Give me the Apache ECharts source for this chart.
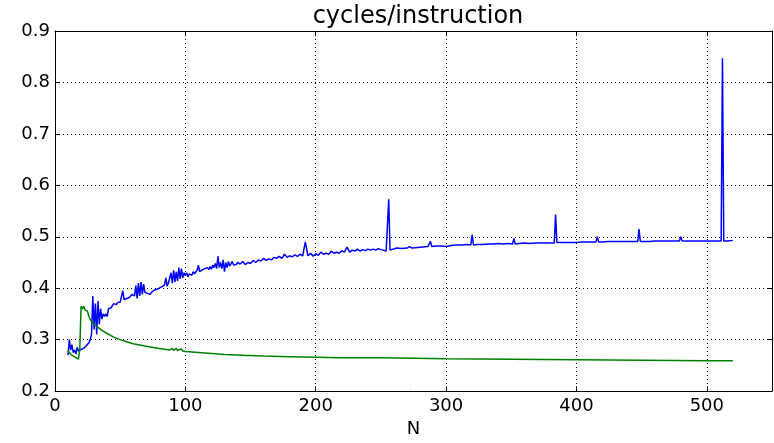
<!DOCTYPE html>
<html>
<head>
<meta charset="utf-8">
<script src="https://cdn.jsdelivr.net/npm/echarts@6/dist/echarts.min.js"></script>
<style>html,body{margin:0;padding:0;background:#fff}#c{width:774px;height:443px}</style>
</head>
<body>
<div id="c"></div>
<script>
const title = "cycles/instruction";
const xName = "N";
const xTicks = [0, 100, 200, 300, 400, 500];
const yTicks = [0.2, 0.3, 0.4, 0.5, 0.6, 0.7, 0.8, 0.9];

const blueN = [
  10,11,12,13,14,15,16,17,18,19,20,21,22,23,24,25,26,27,28,29,30,31,32,33,34,35,36,37,38,39,40,41,42,43,44,45,46,47,48,49,50,51,52,53,54,55,56,57,58,59,60,
  61,62,63,64,65,66,67,68,69,70,71,72,73,74,75,76,77,78,79,80,81,82,83,84,85,86,87,88,89,90,91,92,93,94,95,96,97,98,99,
  100,101,102,103,104,105,106,107,108,109,110,111,112,113,114,115,116,117,118,119,120,121,122,123,124,125,126,127,128,129,130,131,132,133,134,135,136,137,138,139,140,
  142,144,146,148,150,152,154,156,158,160,162,164,166,168,170,172,174,176,178,180,182,184,186,188,190,192,194,196,198,200,202,204,206,208,210,212,214,216,218,220,222,224,226,228,230,232,234,236,238,240,242,244,246,248,250,252,254,255,256,257,258,
  262,266,270,272,274,278,282,286,287,288,289,292,296,300,304,308,312,316,319,320,321,324,328,332,336,340,344,348,351,352,353,356,360,364,368,372,376,380,383,384,385,388,392,396,400,404,408,412,415,416,417,420,424,428,432,436,440,444,447,448,449,452,456,460,464,468,472,476,479,480,481,484,488,492,496,500,504,508,511,512,513,516,520];
const blueV = [
  0.270,0.300,0.280,0.290,0.275,0.280,0.272,0.285,0.278,0.280,
  0.281,0.282,0.283,0.285,0.288,0.290,0.294,0.300,0.310,0.385,
  0.320,0.370,0.310,0.375,0.330,0.360,0.340,0.350,0.345,0.350,
  0.345,0.360,0.358,0.362,0.365,0.370,0.372,0.368,0.372,0.374,
  0.373,0.375,0.395,0.378,0.376,0.380,0.383,0.382,0.385,0.388,
  0.390,
  0.385,0.405,0.380,0.410,0.385,0.412,0.388,0.408,0.392,
  0.395,0.390,0.393,0.388,0.392,0.390,0.396,0.394,0.398,0.397,
  0.400,0.398,0.403,0.400,0.406,0.420,0.404,0.410,0.408,0.430,
  0.410,0.435,0.412,0.432,0.414,0.440,0.418,0.438,0.420,0.430,
  0.425,0.430,0.422,0.428,0.430,0.425,0.432,0.428,0.430,0.435,
  0.445,0.432,0.430,0.436,0.434,0.438,0.435,0.440,0.436,0.442,
  0.437,0.445,0.440,0.448,0.438,0.462,0.440,0.450,0.438,0.455,
  0.432,0.450,0.440,0.452,0.443,0.446,0.452,0.445,0.448,0.446,
  0.450,
  0.447,0.452,0.446,0.450,0.448,0.454,0.450,0.455,0.453,0.458,
  0.454,0.457,0.455,0.460,0.458,0.462,0.458,0.466,0.460,0.463,
  0.461,0.465,0.462,0.466,0.463,0.490,0.463,0.468,0.462,0.467,
  0.464,0.470,0.466,0.468,0.466,0.472,0.468,0.470,0.468,0.473,
  0.470,0.480,0.470,0.474,0.472,0.476,0.472,0.475,0.473,0.476,
  0.474,0.476,0.474,0.477,0.475,0.474,0.472,0.474,0.573,0.474,0.476,
  0.478,0.477,0.478,0.481,0.478,0.479,0.480,0.481,0.481,0.491,0.481,0.482,0.482,0.481,0.483,0.484,0.484,0.485,0.484,0.504,0.484,0.485,0.485,0.486,0.486,0.487,0.486,0.487,0.486,0.497,0.486,0.487,0.488,0.487,0.488,0.488,0.488,0.488,0.488,0.543,0.489,0.489,0.489,0.489,0.489,0.490,0.490,0.490,0.490,0.500,0.490,0.490,0.491,0.491,0.491,0.491,0.491,0.491,0.491,0.515,0.491,0.491,0.491,0.492,0.492,0.492,0.492,0.492,0.492,0.500,0.492,0.492,0.492,0.492,0.492,0.492,0.492,0.492,0.492,0.847,0.492,0.492,0.493];

const greenN = [10,11,12,13,14,15,16,17,18,19,20,21,22,23,24,25,26,27,28,30,32,34,36,40,45,50,55,60,70,80,88,90,91,93,94,97,98,100,110,120,130,140,147,148,149,160,180,200,220,250,300,350,400,450,500,520];
const greenV = [0.278,0.280,0.272,0.275,0.268,0.266,0.265,0.264,0.262,0.280,0.365,0.360,0.365,0.358,0.360,0.355,0.345,0.340,0.335,0.330,0.326,0.322,0.318,0.312,0.305,0.300,0.296,0.292,0.287,0.283,0.280,0.283,0.279,0.283,0.279,0.282,0.278,0.277,0.275,0.273,0.271,0.270,0.269,0.272,0.269,0.268,0.267,0.266,0.265,0.265,0.263,0.262,0.261,0.260,0.259,0.259];

const font = 'DejaVu Sans';
const chart = echarts.init(document.getElementById('c'), null, {renderer: 'canvas'});
const tickStyle = {show: true, inside: true, length: 5, lineStyle: {color: '#000', width: 1}};
const lineAx = {show: true, onZero: false, lineStyle: {color: '#000', width: 1}};
const grid = {type: [1, 3], color: '#000', width: 1};
chart.setOption({
  animation: false,
  backgroundColor: '#fff',
  title: {text: title, left: 413, top: 0, textAlign: 'center',
    textStyle: {fontFamily: font, fontSize: 24, fontWeight: 'normal', color: '#000'}},
  grid: {left: 55, right: 2, top: 31, bottom: 51, containLabel: false},
  xAxis: [
    {type: 'value', min: xTicks[0], max: 550, interval: 100, position: 'bottom',
     name: xName, nameLocation: 'middle', nameGap: 28,
     nameTextStyle: {fontFamily: font, fontSize: 18, color: '#000'},
     axisLine: lineAx, axisTick: tickStyle,
     axisLabel: {fontFamily: font, fontSize: 18, color: '#000', margin: 6, showMaxLabel: false},
     splitLine: {show: true, lineStyle: grid}},
    {type: 'value', min: xTicks[0], max: 550, interval: 100, position: 'top',
     axisLine: lineAx, axisTick: tickStyle, axisLabel: {show: false}, splitLine: {show: false}}
  ],
  yAxis: [
    {type: 'value', min: yTicks[0], max: yTicks[yTicks.length - 1], interval: 0.1, position: 'left',
     axisLine: lineAx, axisTick: tickStyle,
     axisLabel: {fontFamily: font, fontSize: 18, color: '#000', margin: 5,
       formatter: v => (Math.round(v * 10) / 10).toFixed(1)},
     splitLine: {show: true, lineStyle: grid}},
    {type: 'value', min: yTicks[0], max: yTicks[yTicks.length - 1], interval: 0.1, position: 'right',
     axisLine: lineAx, axisTick: tickStyle, axisLabel: {show: false}, splitLine: {show: false}}
  ],
  series: [
    {type: 'line', data: blueN.map((n, i) => [n, blueV[i]]), showSymbol: false,
     lineStyle: {color: '#0000ff', width: 1.5}, itemStyle: {color: '#0000ff'}, z: 3},
    {type: 'line', data: greenN.map((n, i) => [n, greenV[i]]), showSymbol: false,
     lineStyle: {color: '#008000', width: 1.5}, itemStyle: {color: '#008000'}, z: 4}
  ]
});
</script>
</body>
</html>
